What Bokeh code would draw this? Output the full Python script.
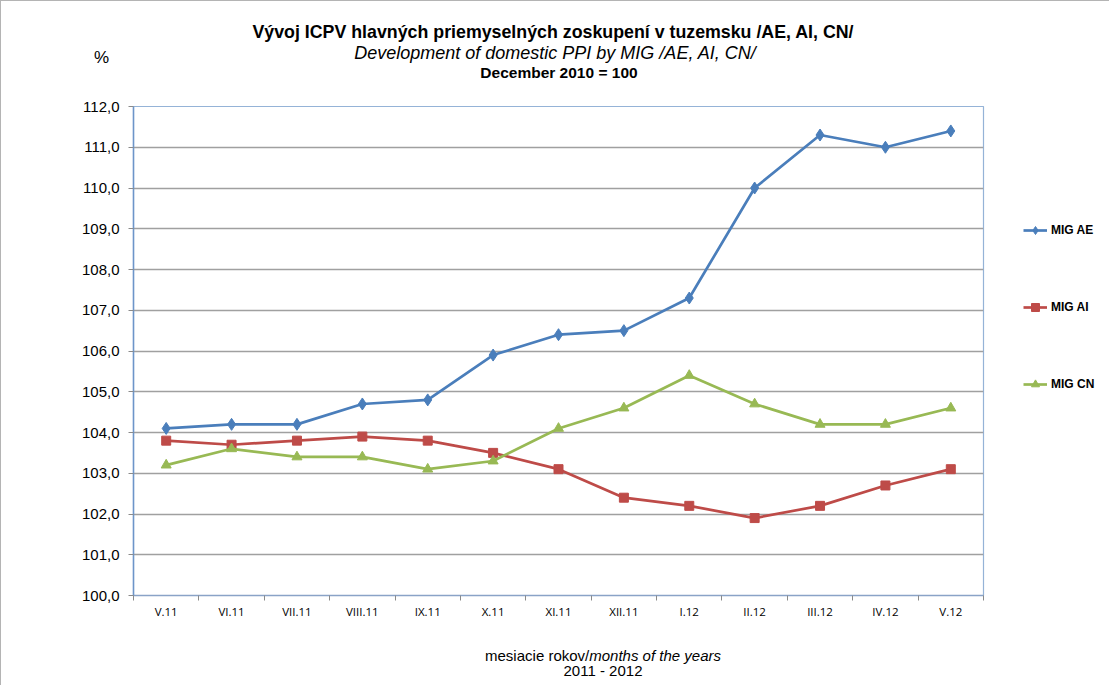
from bokeh.plotting import figure
from bokeh.models import (Range1d, FixedTicker, Legend, LegendItem, Div)
from bokeh.layouts import column
from bokeh.embed import file_html
from bokeh.resources import INLINE

months = ["V.11", "VI.11", "VII.11", "VIII.11", "IX.11", "X.11", "XI.11",
          "XII.11", "I.12", "II.12", "III.12", "IV.12", "V.12"]
mig_ae = [104.1, 104.2, 104.2, 104.7, 104.8, 105.9, 106.4, 106.5, 107.3, 110.0, 111.3, 111.0, 111.4]
mig_ai = [103.8, 103.7, 103.8, 103.9, 103.8, 103.5, 103.1, 102.4, 102.2, 101.9, 102.2, 102.7, 103.1]
mig_cn = [103.2, 103.6, 103.4, 103.4, 103.1, 103.3, 104.1, 104.6, 105.4, 104.7, 104.2, 104.2, 104.6]
y_ticks = list(range(100, 113))

title_sk = "Vývoj ICPV hlavných priemyselných zoskupení v tuzemsku /AE, AI, CN/"
title_en = "Development of domestic PPI by MIG /AE, AI, CN/"
title_base = "December 2010 = 100"
y_unit = "%"
x_title_sk = "mesiacie rokov/"
x_title_en = "months of the years"
x_years = "2011 - 2012"

x = list(range(1, len(months) + 1))

FONT = "Liberation Sans"
TOTAL_W = 1102
TOP_H = 95
BOT_H = 60

p = figure(frame_width=850, frame_height=489, output_backend="svg",
           toolbar_location=None, x_range=Range1d(0.5, len(months) + 0.5),
           y_range=Range1d(100, 112),
           min_border_left=132, min_border_top=10, min_border_right=120,
           min_border_bottom=30)
p.outline_line_color = "#95b3d7"
p.outline_line_width = 1.2
p.background_fill_color = "white"
p.border_fill_color = "white"

# x axis
xa = p.xaxis[0]
xa.ticker = FixedTicker(ticks=x, minor_ticks=[i + 0.5 for i in range(0, len(months) + 1)])
xa.major_label_overrides = {i: m for i, m in zip(x, months)}
xa.major_tick_out = 0
xa.major_tick_in = 0
xa.minor_tick_out = 5
xa.minor_tick_in = 0
xa.minor_tick_line_color = "#8a8a8a"
xa.axis_line_color = "#8aa3c7"
xa.axis_line_width = 1.5
xa.major_label_text_font = "Open Sans"
xa.major_label_text_font_size = "11.5px"
xa.major_label_text_color = "#000000"
xa.major_label_standoff = 3

# y axis
ya = p.yaxis[0]
ya.ticker = FixedTicker(ticks=y_ticks, minor_ticks=[])
ya.major_label_overrides = {t: f"{t},0" for t in y_ticks}
ya.major_tick_out = 5
ya.major_tick_in = 0
ya.major_tick_line_color = "#8a8a8a"
ya.axis_line_color = "#6d95c9"
ya.axis_line_width = 1.5
ya.major_label_text_font = FONT
ya.major_label_text_font_size = "15px"
ya.major_label_text_color = "#000000"
ya.major_label_standoff = 9

p.xgrid.grid_line_color = None
p.ygrid.grid_line_color = "#a0a0a0"
p.ygrid.grid_line_width = 1.3

series = [
    ("MIG AE", mig_ae, "#4a7ebb", "diamond", 12),
    ("MIG AI", mig_ai, "#be4b48", "square", 9),
    ("MIG CN", mig_cn, "#98b954", "triangle", 10),
]
items = []
for name, vals, col, marker, size in series:
    l = p.line(x, vals, line_color=col, line_width=2.7)
    s = p.scatter(x, vals, marker=marker, size=size, fill_color=col, line_color=col)
    items.append(LegendItem(label=name, renderers=[l, s]))

legend = Legend(items=items, location=(40, 201), orientation="vertical",
                glyph_width=24, glyph_height=20, label_height=20,
                spacing=57, padding=0, margin=0, label_standoff=4,
                border_line_color=None, background_fill_alpha=0,
                label_text_font=FONT, label_text_font_size="12px",
                label_text_font_style="bold", label_text_color="#000000")
p.add_layout(legend, "right")

FF = "font-family:'Liberation Sans',Arial,sans-serif;color:#000;white-space:nowrap;line-height:1;"

def line_div(text, top, size, style="", center=552):
    return (f'<div style="position:absolute;left:{center - 500}px;width:1000px;top:{top}px;'
            f'text-align:center;font-size:{size}px;{style}{FF}">{text}</div>')

top_html = (
    f'<div style="position:relative;width:{TOTAL_W}px;height:{TOP_H}px;">'
    + line_div(title_sk, 23, 17.8, "font-weight:bold;", 552)
    + line_div(title_en, 43, 18, "font-style:italic;", 554)
    + line_div(title_base, 64, 15.5, "font-weight:bold;", 558)
    + f'<div style="position:absolute;left:93px;top:48px;font-size:17px;{FF}">{y_unit}</div>'
    + '</div>'
)
bot_html = (
    f'<div style="position:relative;width:{TOTAL_W}px;height:{BOT_H}px;">'
    + line_div(f'{x_title_sk}<i>{x_title_en}</i>', 23, 15, "", 602)
    + line_div(x_years, 38, 15, "", 602)
    + '</div>'
)

top_div = Div(text=top_html, width=TOTAL_W, height=TOP_H, margin=0)
bot_div = Div(text=bot_html, width=TOTAL_W, height=BOT_H, margin=0)

layout = column(top_div, p, bot_div, spacing=0)
layout.styles = {"border-left": "1px solid #b4b4b4", "border-top": "1px solid #b4b4b4",
                 "background-color": "white"}

open("out.html", "w").write(file_html(layout, INLINE))
